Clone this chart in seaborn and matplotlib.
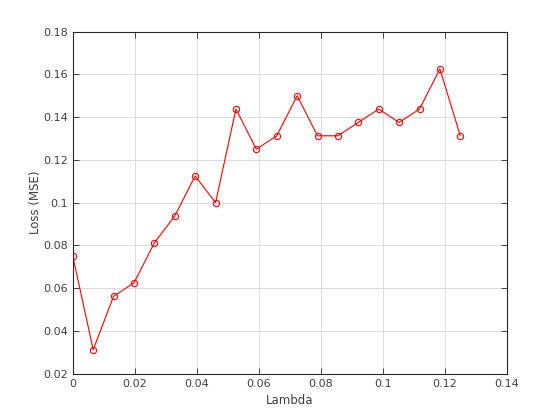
import numpy as np
import pandas as pd
import seaborn as sns
import matplotlib
matplotlib.use('Agg')
import matplotlib.pyplot as plt

# lambda values and test loss
lambdas = [0.0, 0.00658, 0.01316, 0.01974, 0.02632, 0.03289, 0.03947, 0.04605,
           0.05263, 0.05921, 0.06579, 0.07237, 0.07895, 0.08553, 0.09211,
           0.09868, 0.10526, 0.11184, 0.11842, 0.125]
loss = [0.075, 0.03125, 0.05625, 0.0625, 0.08125, 0.09375, 0.1125, 0.1,
        0.14375, 0.125, 0.13125, 0.15, 0.13125, 0.13125, 0.1375,
        0.14375, 0.1375, 0.14375, 0.1625, 0.13125]
xticks = [0, 0.02, 0.04, 0.06, 0.08, 0.1, 0.12, 0.14]
xtick_labels = ['0', '0.02', '0.04', '0.06', '0.08', '0.1', '0.12', '0.14']
yticks = [0.02, 0.04, 0.06, 0.08, 0.1, 0.12, 0.14, 0.16, 0.18]
ytick_labels = ['0.02', '0.04', '0.06', '0.08', '0.1', '0.12', '0.14', '0.16', '0.18']

df = pd.DataFrame({'Lambda': lambdas, 'Loss': loss})

sns.set_style('white')
plt.rcParams['font.family'] = ['DejaVu Sans']

fig = plt.figure(figsize=(5.6, 4.2), dpi=100)
ax = fig.add_axes([0.13, 0.11, 0.775, 0.815])

sns.lineplot(x='Lambda', y='Loss', data=df, ax=ax, color='red', linewidth=0.8,
             marker='o', markersize=4.5, markerfacecolor='none',
             markeredgecolor='red', markeredgewidth=0.8)

ax.set_xlim(0, 0.14)
ax.set_ylim(0.02, 0.18)
ax.set_xticks(xticks)
ax.set_xticklabels(xtick_labels)
ax.set_yticks(yticks)
ax.set_yticklabels(ytick_labels)
ax.grid(True, color='#dcdcdc', linewidth=0.7)
ax.set_axisbelow(True)
ax.tick_params(direction='in', length=4, width=0.6, colors='#262626',
               labelcolor='#404040', labelsize=8,
               top=True, right=True, bottom=True, left=True)
for s in ax.spines.values():
    s.set_color('#262626')
    s.set_linewidth(0.8)
ax.set_xlabel('Lambda', fontsize=8.5, color='#404040')
ax.set_ylabel('Loss (MSE)', fontsize=8.5, color='#404040', labelpad=1)

fig.savefig('out.png', dpi=100)
